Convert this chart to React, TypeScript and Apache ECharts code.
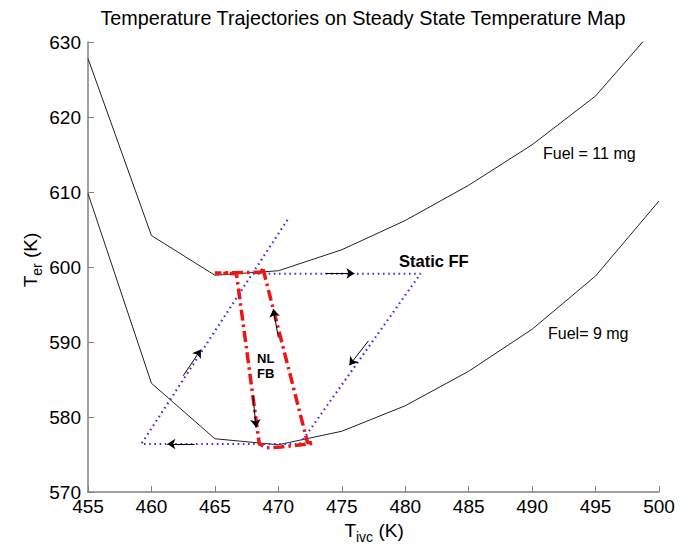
import React, { useEffect, useRef } from "react";
import * as echarts from "echarts";

// Steady-state map curves (T_ivc grid)
const tivc = [455, 460, 465, 470, 475, 480, 485, 490, 495, 500];
const fuel11Ter = [627.8, 604.2, 598.9, 599.5, 602.3, 606.2, 610.9, 616.3, 622.8, 632.5];
const fuel9Ter = [609.8, 584.5, 577.1, 576.3, 578.1, 581.5, 586.1, 591.7, 598.8, 608.8];

// Static FF trajectory (blue dotted)
const staticFFX = [468.0, 481.2, 471.7, 459.2, 470.8];
const staticFFY = [599.1, 599.1, 576.4, 576.4, 606.5];

// NL FB trajectory (red dash-dot)
const nlfbX = [468.8, 468.6, 465.0, 466.7, 468.5, 469.1, 470.2, 472.8, 472.3, 468.8];
const nlfbY = [599.7, 599.3, 599.2, 599.1, 576.4, 575.9, 576.0, 576.5, 576.6, 599.7];

// Direction arrows [x1, y1, x2, y2]
const arrows = [
  [473.7, 599.15, 476.0, 599.15],
  [477.1, 590.15, 475.6, 586.9],
  [462.5, 585.5, 463.9, 589.0],
  [463.4, 576.4, 461.25, 576.4],
  [468.0, 582.8, 468.25, 578.6],
  [470.0, 590.6, 469.6, 594.4],
];

const xTicks = { min: 455, max: 500, interval: 5 };
const yTicks = { min: 570, max: 630, interval: 10 };

const FONT = "'Liberation Sans', Arial, Helvetica, sans-serif";
const AXIS_GRAY = "#808080";

export default function App() {
  const ref = useRef<HTMLDivElement>(null);
  useEffect(() => {
    const chart = echarts.init(ref.current!, null, { renderer: "svg" });
    const zip = (xs: number[], ys: number[]) => xs.map((x, i) => [x, ys[i]]);
    const option: any = {
      animation: false,
      backgroundColor: "#ffffff",
      textStyle: { fontFamily: FONT },
      grid: { left: 88, right: 30, top: 42, bottom: 55, containLabel: false, outerBoundsMode: "none" },
      xAxis: {
        type: "value",
        min: xTicks.min,
        max: xTicks.max,
        interval: xTicks.interval,
        splitLine: { show: false },
        axisLine: { show: true, onZero: false, lineStyle: { color: AXIS_GRAY, width: 1.5 } },
        axisTick: { show: true, inside: true, length: 6, lineStyle: { color: AXIS_GRAY, width: 1 } },
        axisLabel: { color: "#000", fontSize: 19, fontFamily: FONT, margin: 5, showMinLabel: true, showMaxLabel: true },
      },
      yAxis: {
        type: "value",
        min: yTicks.min,
        max: yTicks.max,
        interval: yTicks.interval,
        splitLine: { show: false },
        axisLine: { show: true, onZero: false, lineStyle: { color: AXIS_GRAY, width: 1.5 } },
        axisTick: { show: true, inside: true, length: 6, lineStyle: { color: AXIS_GRAY, width: 1 } },
        axisLabel: { color: "#000", fontSize: 19, fontFamily: FONT, margin: 7, showMinLabel: true, showMaxLabel: true },
      },
      graphic: [
        {
          type: "text",
          x: 363,
          y: 18,
          style: {
            text: "Temperature Trajectories on Steady State Temperature Map",
            font: `19.8px ${FONT}`,
            fill: "#000",
            textAlign: "center",
            textVerticalAlign: "middle",
          },
        },
        // x axis name
        {
          type: "group",
          x: 374,
          y: 530,
          children: [
            { type: "text", x: -29.6, y: 0, style: { text: "T", font: `19px ${FONT}`, fill: "#000", textAlign: "left", textVerticalAlign: "middle" } },
            { type: "text", x: -18.0, y: 7, style: { text: "ivc", font: `14px ${FONT}`, fill: "#000", textAlign: "left", textVerticalAlign: "middle" } },
            { type: "text", x: -0.9, y: 0, style: { text: " (K)", font: `19px ${FONT}`, fill: "#000", textAlign: "left", textVerticalAlign: "middle" } },
          ],
        },
        // y axis name
        {
          type: "group",
          x: 30,
          y: 260,
          rotation: Math.PI / 2,
          children: [
            { type: "text", x: -27.3, y: 0, style: { text: "T", font: `19px ${FONT}`, fill: "#000", textAlign: "left", textVerticalAlign: "middle" } },
            { type: "text", x: -15.7, y: 7, style: { text: "er", font: `14px ${FONT}`, fill: "#000", textAlign: "left", textVerticalAlign: "middle" } },
            { type: "text", x: -3.3, y: 0, style: { text: " (K)", font: `19px ${FONT}`, fill: "#000", textAlign: "left", textVerticalAlign: "middle" } },
          ],
        },
        { type: "text", x: 543, y: 153, style: { text: "Fuel = 11 mg", font: `16px ${FONT}`, fill: "#000", textVerticalAlign: "middle" } },
        { type: "text", x: 548, y: 333, style: { text: "Fuel= 9 mg", font: `16px ${FONT}`, fill: "#000", textVerticalAlign: "middle" } },
        { type: "text", x: 399, y: 261, style: { text: "Static FF", font: `bold 16.5px ${FONT}`, fill: "#000", textVerticalAlign: "middle" } },
        { type: "text", x: 257, y: 358, style: { text: "NL", font: `bold 13px ${FONT}`, fill: "#000", textVerticalAlign: "middle" } },
        { type: "text", x: 257, y: 373, style: { text: "FB", font: `bold 13px ${FONT}`, fill: "#000", textVerticalAlign: "middle" } },
      ],
      series: [
        {
          type: "line",
          data: zip(tivc, fuel11Ter),
          symbol: "none",
          clip: true,
          lineStyle: { color: "#222", width: 1 },
          z: 2,
        },
        {
          type: "line",
          data: zip(tivc, fuel9Ter),
          symbol: "none",
          clip: true,
          lineStyle: { color: "#222", width: 1 },
          z: 2,
        },
        {
          type: "line",
          data: zip(staticFFX, staticFFY),
          symbol: "none",
          lineStyle: { color: "#3535e0", width: 2.2, type: [1.6, 3.6], cap: "butt" },
          z: 3,
        },
        {
          type: "line",
          data: zip(nlfbX, nlfbY),
          symbol: "none",
          lineStyle: { color: "#ee1515", width: 3.5, type: [11, 4, 2.5, 4], cap: "butt" },
          z: 4,
        },
        {
          type: "lines",
          coordinateSystem: "cartesian2d",
          symbol: ["none", "arrow"],
          symbolSize: 8,
          lineStyle: { color: "#000", width: 1, opacity: 1 },
          data: arrows.map((a) => ({ coords: [[a[0], a[1]], [a[2], a[3]]] })),
          z: 5,
        },
      ],
    };
    chart.setOption(option);
    return () => chart.dispose();
  }, []);
  return <div ref={ref} style={{ position: "absolute", left: 0, top: 0, width: 689, height: 547 }} />;
}
